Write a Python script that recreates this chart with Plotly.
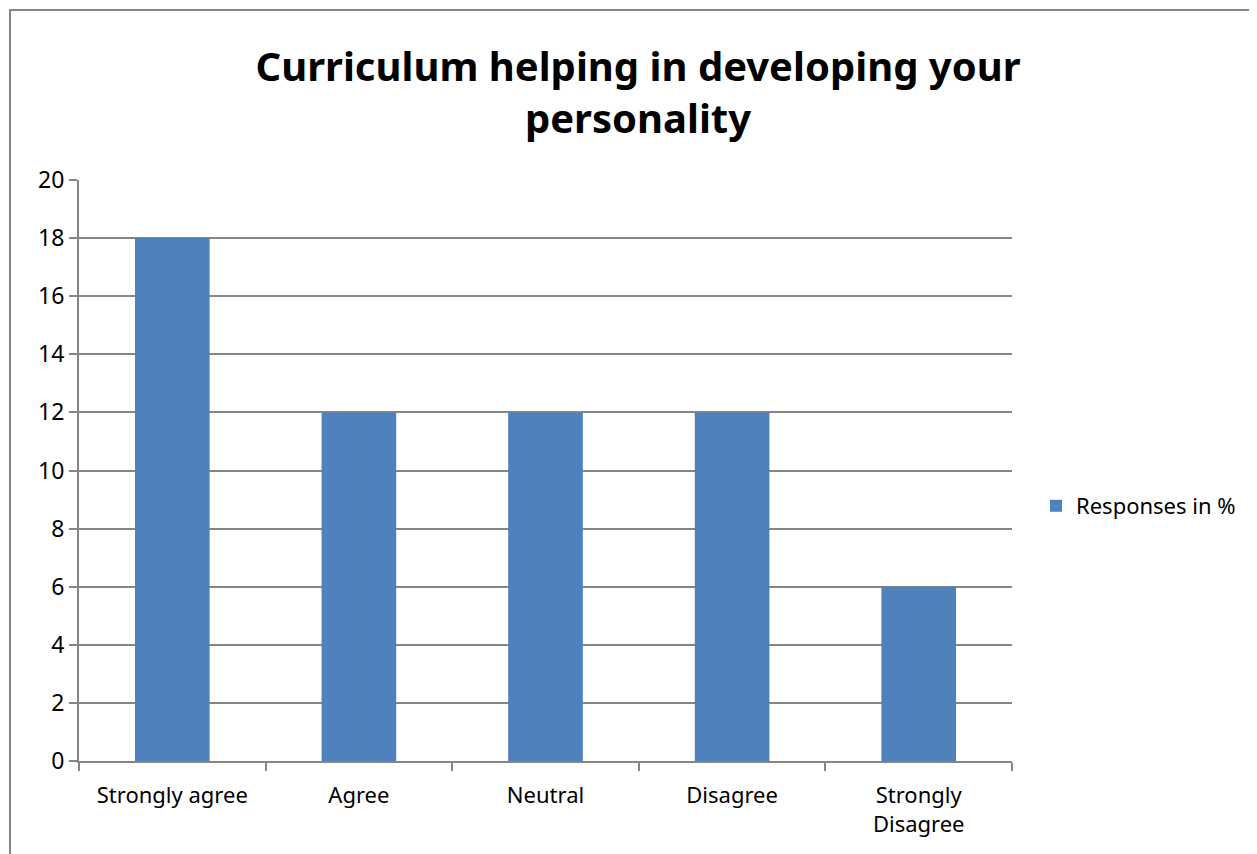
import plotly.graph_objects as go

categories = ["Strongly agree", "Agree", "Neutral", "Disagree", "Strongly<br>Disagree"]
values = [18, 12, 12, 12, 6]
series_name = "Responses in %"
title_text = "Curriculum helping in developing your<br>personality"

OFF = 8  # default page body margin
W, H = 1257 - OFF, 854 - OFF
L, R, T, B = 79 - OFF, 1012 - OFF, 180 - OFF, 761 - OFF
pw, ph = R - L, B - T

fig = go.Figure()
fig.add_trace(go.Bar(x=categories, y=values, name=series_name,
                     marker=dict(color="#4F81BD", line=dict(width=0)),
                     width=0.4, showlegend=True))

grid = "#868686"
fig.update_layout(
    width=W, height=H,
    margin=dict(l=L, r=W - R, t=T, b=H - B, autoexpand=False),
    paper_bgcolor="white", plot_bgcolor="white",
    font=dict(family="Noto Sans, Open Sans, sans-serif", color="black", size=22),
    title=dict(text="<b>" + title_text + "</b>", x=(638 - OFF) / W, xanchor="center",
               y=1 - (81 - OFF) / H, yanchor="middle",
               font=dict(size=40, family="Noto Sans, sans-serif", color="black")),
    xaxis=dict(type="category", tickson="boundaries", ticks="outside", ticklen=8,
               tickcolor=grid, tickwidth=2, showline=True, linecolor=grid, linewidth=2,
               showgrid=False, tickfont=dict(size=22), range=[-0.5, 4.5],
               ticklabelstandoff=14),
    yaxis=dict(range=[0, 20], dtick=2, ticks="outside", ticklen=8, tickcolor=grid,
               tickwidth=2, showline=True, linecolor=grid, linewidth=2,
               showgrid=True, gridcolor=grid, gridwidth=2, zeroline=False,
               tickfont=dict(size=23), ticklabelstandoff=0),
    legend=dict(x=(1036 - OFF - L) / pw, y=(B + OFF - 506) / ph, xanchor="left",
                yanchor="middle", font=dict(size=22), bgcolor="rgba(0,0,0,0)",
                itemwidth=30),
    bargap=0.6,
)

# outer chart border
fig.add_shape(type="rect", xref="paper", yref="paper",
              x0=(10 - OFF - L) / pw, x1=(W + 20 - L) / pw,
              y0=(B - (H + 20)) / ph, y1=(B - (10 - OFF)) / ph,
              line=dict(color=grid, width=2), fillcolor="rgba(0,0,0,0)", layer="below")

fig.write_html("out.html")
